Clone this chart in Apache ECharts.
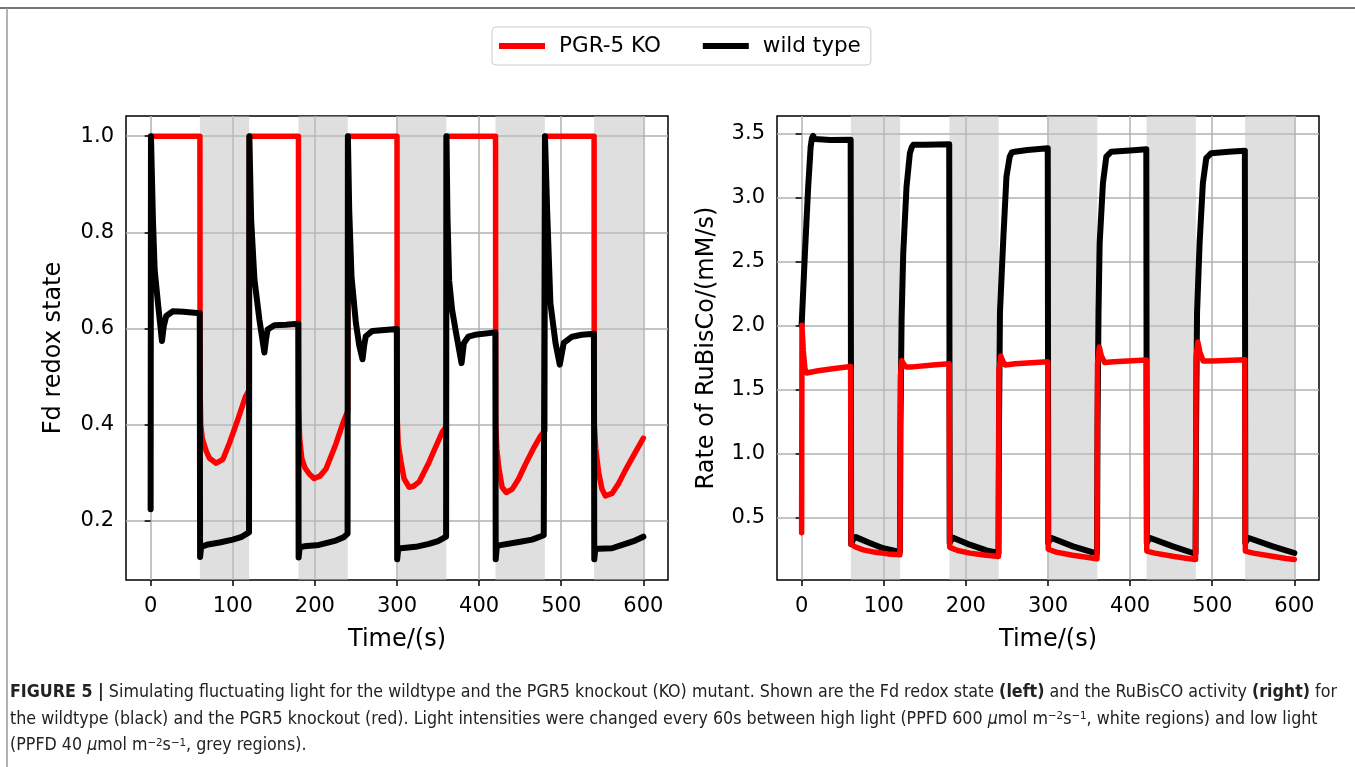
<!DOCTYPE html>
<html>
<head>
<meta charset="utf-8">
<title>Fluctuating light: Fd redox state and RuBisCO rate</title>
<script src="https://cdn.jsdelivr.net/npm/echarts@6/dist/echarts.min.js"></script>
<style>
  html, body { margin: 0; padding: 0; background: #fff; }
  #chart { width: 1355px; height: 767px; }
</style>
</head>
<body>
<div id="chart"></div>
<script>
// ticks and low light periods (s)
const xTicks = [0, 100, 200, 300, 400, 500, 600];
const fdTicks = [0.2, 0.4, 0.6, 0.8, 1.0];
const rateTicks = [0.5, 1.0, 1.5, 2.0, 2.5, 3.0, 3.5];
const lowLight = [[60, 120], [180, 240], [300, 360], [420, 480], [540, 600]];

// Fd redox state, [time, value]
const fdKO = [
  [0, 1.0], [60, 1.0],
  [60.2, 0.474], [61, 0.40], [63, 0.37], [67.7, 0.345], [71.7, 0.33], [79.8, 0.32], [88, 0.328], [96, 0.362], [106, 0.41], [115.4, 0.458], [120, 0.472],
  [120.2, 1.0], [180, 1.0],
  [180.2, 0.436], [181.5, 0.37], [184, 0.33], [188, 0.31], [193, 0.298], [199, 0.288], [206, 0.293], [213.5, 0.308], [225.6, 0.36], [234.5, 0.405], [240, 0.428],
  [240.2, 1.0], [300, 1.0],
  [300.2, 0.415], [301.5, 0.36], [304.6, 0.325], [308.6, 0.288], [314.7, 0.27], [320, 0.272], [326.9, 0.281], [339, 0.322], [350, 0.365], [355.2, 0.385], [360, 0.396],
  [360.2, 1.0], [420, 1.0],
  [420.2, 0.405], [421.5, 0.35], [424, 0.31], [428, 0.27], [433, 0.259], [440.3, 0.266], [448, 0.287], [456.5, 0.318], [466, 0.35], [474.7, 0.376], [480, 0.388],
  [480.2, 1.0], [540, 1.0],
  [540.2, 0.401], [542, 0.35], [545.6, 0.30], [549.6, 0.266], [553.7, 0.252], [561.8, 0.257], [570, 0.278], [578, 0.305], [590, 0.342], [600, 0.372]
];
const fdWT = [
  [0, 0.224], [0.4, 1.0], [2.8, 0.826], [4.9, 0.722], [8.9, 0.653], [13.8, 0.574], [16, 0.605], [19, 0.626], [27.1, 0.636], [40, 0.635], [59.8, 0.632],
  [60.2, 0.125], [61.5, 0.146], [70, 0.151], [84, 0.155], [100, 0.161], [110, 0.166], [119.8, 0.176],
  [120.2, 1.0], [122.4, 0.826], [126.4, 0.702], [132.4, 0.619], [138.5, 0.55], [140.5, 0.578], [142.5, 0.598], [150.7, 0.607], [165, 0.608], [179.8, 0.61],
  [180.2, 0.124], [181.5, 0.145], [187, 0.147], [205, 0.150], [225.6, 0.159], [235, 0.166], [239.8, 0.173],
  [240.2, 1.0], [241.8, 0.847], [244.6, 0.708], [249.9, 0.612], [254, 0.565], [258, 0.536], [260, 0.565], [262, 0.584], [270, 0.595], [299.8, 0.599],
  [300.2, 0.12], [301.5, 0.142], [304.6, 0.143], [322.8, 0.146], [339, 0.152], [350, 0.158], [359.8, 0.167],
  [360.2, 1.0], [361.5, 0.83], [363.5, 0.70], [367, 0.64], [372, 0.59], [378.6, 0.528], [381.5, 0.57], [386.8, 0.583], [395, 0.587], [419.8, 0.592],
  [420.2, 0.12], [421.5, 0.145], [424, 0.149], [448.4, 0.156], [464.5, 0.161], [478.7, 0.170], [479.8, 0.172],
  [480.2, 1.0], [482.8, 0.847], [486.8, 0.653], [493, 0.570], [498.2, 0.525], [503, 0.570], [513.2, 0.583], [525, 0.587], [539.8, 0.589],
  [540.2, 0.12], [541.5, 0.142], [545.6, 0.142], [561.8, 0.143], [578, 0.152], [590, 0.159], [600, 0.167]
];

// rate of RuBisCO (mM/s), [time, value]
const rateKO = [
  [0, 0.38], [0.4, 2.0], [2, 1.80], [4, 1.66], [6, 1.627], [20, 1.645], [40, 1.663], [59.7, 1.678],
  [60.3, 0.29], [65, 0.27], [75, 0.245], [90, 0.226], [105, 0.214], [119.7, 0.207],
  [120.3, 1.60], [121.8, 1.725], [124, 1.70], [127, 1.675], [135, 1.675], [160, 1.69], [179.7, 1.70],
  [180.3, 0.265], [190, 0.24], [205, 0.22], [222, 0.205], [239.7, 0.193],
  [240.3, 1.65], [242.5, 1.76], [245, 1.72], [248, 1.69], [260, 1.70], [299.7, 1.715],
  [300.3, 0.25], [310, 0.228], [330, 0.203], [345, 0.19], [359.7, 0.176],
  [360.3, 1.70], [362.5, 1.83], [365, 1.76], [369, 1.71], [380, 1.715], [419.7, 1.728],
  [420.3, 0.236], [430, 0.22], [452, 0.195], [468, 0.18], [479.7, 0.17],
  [480.3, 1.75], [482.5, 1.87], [485, 1.79], [489, 1.72], [500, 1.72], [539.7, 1.73],
  [540.3, 0.236], [550, 0.22], [573, 0.195], [590, 0.178], [600, 0.17]
];
const rateWT = [
  [0, 2.0], [4, 2.563], [8, 3.083], [11, 3.395], [12.5, 3.46], [14, 3.48], [16, 3.455], [18.2, 3.445], [35, 3.447], [59.7, 3.45],
  [60.3, 0.29], [61.5, 0.31], [63.5, 0.34], [66, 0.345], [83, 0.299], [99.3, 0.258], [115.6, 0.236], [119.7, 0.232],
  [120.3, 1.20], [121.7, 2.04], [123.7, 2.56], [127.7, 3.08], [131.8, 3.344], [134, 3.39], [136, 3.41], [138, 3.42], [150, 3.41], [179.7, 3.415],
  [180.3, 0.30], [182, 0.32], [184.5, 0.34], [186.5, 0.338], [204.7, 0.286], [225, 0.242], [239.7, 0.221],
  [240.3, 1.20], [241.5, 2.10], [245.3, 2.64], [249.4, 3.16], [253.4, 3.318], [256, 3.35], [259.5, 3.356], [275, 3.37], [299.7, 3.383],
  [300.3, 0.30], [302, 0.32], [304.5, 0.338], [306, 0.336], [330.4, 0.273], [354.7, 0.226], [359.7, 0.222],
  [360.3, 1.20], [361.5, 2.10], [362.9, 2.641], [366.9, 3.11], [371, 3.318], [377.1, 3.356], [400, 3.365], [419.7, 3.375],
  [420.3, 0.30], [422, 0.32], [424.5, 0.338], [426, 0.336], [452, 0.273], [476.4, 0.221], [479.7, 0.218],
  [480.3, 1.20], [481.5, 2.10], [484.6, 2.641], [488.6, 3.11], [492.7, 3.305], [498.8, 3.344], [520, 3.355], [539.7, 3.364],
  [540.3, 0.30], [542, 0.32], [544.5, 0.338], [546, 0.336], [573.7, 0.273], [600, 0.221]
];

const FONT = 'DejaVu Sans';
const RED = '#ff0000';
const BLACK = '#000000';

const chart = echarts.init(document.getElementById('chart'), null, { renderer: 'canvas' });

function xAxisOf(idx) {
  return {
    type: 'value',
    gridIndex: idx,
    min: -30,
    max: 630,
    axisLine: { show: false },
    axisTick: { show: true, length: 6, customValues: xTicks, lineStyle: { color: '#000', width: 1.5 } },
    axisLabel: { customValues: xTicks, fontSize: 21, color: '#000', fontFamily: FONT, margin: 16 },
    splitLine: { show: true, lineStyle: { color: '#b0b0b0', width: 1.5 } },
    name: 'Time/(s)',
    nameLocation: 'middle',
    nameGap: 48,
    nameTextStyle: { fontSize: 24, color: '#000', fontFamily: FONT }
  };
}

function yAxisOf(idx, min, max, ticks, name, gap) {
  return {
    type: 'value',
    gridIndex: idx,
    min: min,
    max: max,
    axisLine: { show: false },
    axisTick: { show: true, length: 6, customValues: ticks, lineStyle: { color: '#000', width: 1.5 } },
    axisLabel: {
      customValues: ticks, fontSize: 21, color: '#000', fontFamily: FONT, margin: 12,
      formatter: v => v.toFixed(1)
    },
    splitLine: { show: true, lineStyle: { color: '#b0b0b0', width: 1.5 } },
    name: name,
    nameLocation: 'middle',
    nameGap: gap,
    nameTextStyle: { fontSize: 24, color: '#000', fontFamily: FONT }
  };
}

function lineSeries(name, data, color, width, idx, z, bands) {
  const s = {
    name: name,
    type: 'line',
    xAxisIndex: idx,
    yAxisIndex: idx,
    data: data,
    showSymbol: false,
    symbol: 'none',
    z: z,
    color: color,
    lineStyle: { color: color, width: width, cap: 'round', join: 'round' },
    emphasis: { disabled: true }
  };
  if (bands) {
    s.markArea = {
      silent: true,
      itemStyle: { color: 'rgba(192,192,192,0.5)', borderWidth: 0 },
      data: lowLight.map(([a, b]) => [{ xAxis: a }, { xAxis: b }])
    };
  }
  return s;
}

const captionFont = "'DejaVu Sans Condensed', 'Liberation Sans Narrow', sans-serif";
const captionRich = {
  b: { fontWeight: 'bold', fontSize: 17, fontFamily: captionFont, fill: '#222' },
  i: { fontStyle: 'italic', fontSize: 17, fontFamily: captionFont, fill: '#222' },
  s: { fontSize: 11, fontFamily: captionFont, fill: '#222', verticalAlign: 'top' }
};
const captionLines = [
  '{b|FIGURE 5 |} Simulating fluctuating light for the wildtype and the PGR5 knockout (KO) mutant. Shown are the Fd redox state {b|(left)} and the RuBisCO activity {b|(right)} for',
  'the wildtype (black) and the PGR5 knockout (red). Light intensities were changed every 60s between high light (PPFD 600 {i|\u03bc}mol m{s|\u22122}s{s|\u22121}, white regions) and low light',
  '(PPFD 40 {i|\u03bc}mol m{s|\u22122}s{s|\u22121}, grey regions).'
];

const option = {
  animation: false,
  backgroundColor: '#fff',
  legend: {
    data: ['PGR-5 KO', 'wild type'],
    left: 492,
    top: 27,
    icon: 'rect',
    itemWidth: 46,
    itemHeight: 6,
    itemGap: 42,
    borderColor: '#cccccc',
    borderWidth: 1,
    borderRadius: 4,
    padding: [8, 10, 8, 7],
    textStyle: { fontSize: 21.5, fontFamily: FONT, color: '#000', padding: [0, 0, 0, 9] }
  },
  grid: [
    { left: 126, top: 116, width: 542, height: 464, show: true, borderColor: '#000', borderWidth: 1.5, backgroundColor: 'transparent' },
    { left: 777, top: 116, width: 542, height: 464, show: true, borderColor: '#000', borderWidth: 1.5, backgroundColor: 'transparent' }
  ],
  xAxis: [xAxisOf(0), xAxisOf(1)],
  yAxis: [
    yAxisOf(0, 0.077, 1.042, fdTicks, 'Fd redox state', 60),
    yAxisOf(1, 0.01, 3.635, rateTicks, 'Rate of RuBisCo/(mM/s)', 58)
  ],
  series: [
    lineSeries('PGR-5 KO', fdKO, RED, 5.5, 0, 2, true),
    lineSeries('wild type', fdWT, BLACK, 6, 0, 3, false),
    lineSeries('wild type', rateWT, BLACK, 6, 1, 2, true),
    lineSeries('PGR-5 KO', rateKO, RED, 5.5, 1, 3, false)
  ],
  graphic: [
    { type: 'line', shape: { x1: 0, y1: 8, x2: 1355, y2: 8 }, style: { stroke: '#444', lineWidth: 1.5 }, silent: true },
    { type: 'line', shape: { x1: 7, y1: 8, x2: 7, y2: 767 }, style: { stroke: '#999', lineWidth: 1.5 }, silent: true }
  ].concat(captionLines.map((t, i) => ({
    type: 'text',
    x: 10,
    y: 693 + i * 26.5,
    scaleX: 1.04,
    silent: true,
    style: {
      text: t,
      rich: captionRich,
      fontSize: 17,
      fontFamily: captionFont,
      fill: '#222',
      verticalAlign: 'middle'
    }
  })))
};

chart.setOption(option);
</script>
</body>
</html>
